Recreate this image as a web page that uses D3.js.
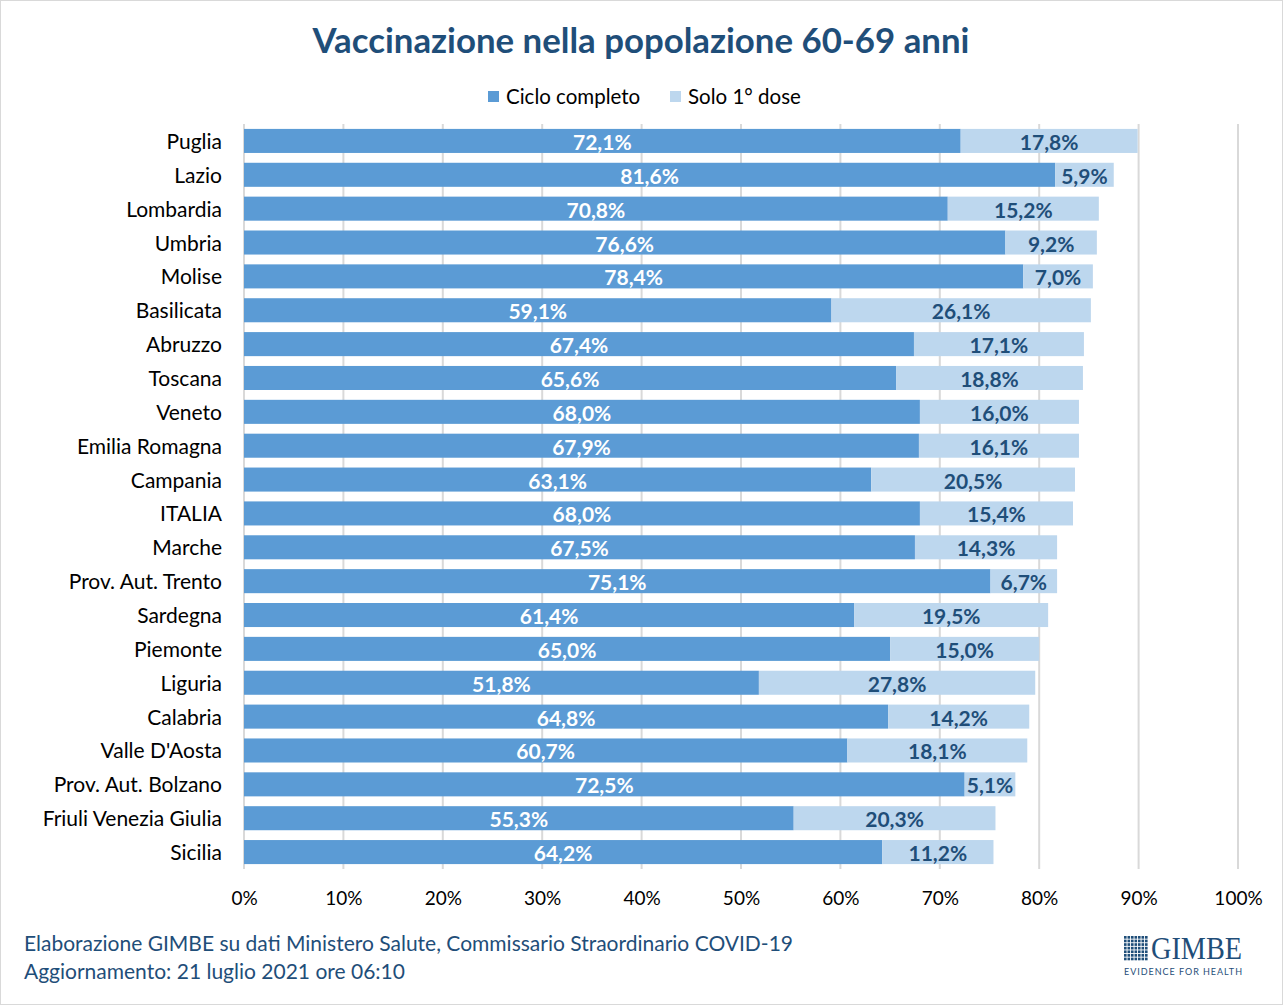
<!DOCTYPE html>
<html>
<head>
<meta charset="utf-8">
<script src="https://cdn.jsdelivr.net/npm/d3@7"></script>
<style>
  body { margin: 0; background: #fff; }
  svg { display: block; font-family: Lato, "Open Sans", sans-serif; }
</style>
</head>
<body>
<div class="chart"></div>
<script>
const regions = ["Puglia", "Lazio", "Lombardia", "Umbria", "Molise", "Basilicata", "Abruzzo", "Toscana",
  "Veneto", "Emilia Romagna", "Campania", "ITALIA", "Marche", "Prov. Aut. Trento", "Sardegna",
  "Piemonte", "Liguria", "Calabria", "Valle D'Aosta", "Prov. Aut. Bolzano", "Friuli Venezia Giulia", "Sicilia"];
const cicloCompleto = [72.1, 81.6, 70.8, 76.6, 78.4, 59.1, 67.4, 65.6, 68.0, 67.9, 63.1, 68.0, 67.5, 75.1,
  61.4, 65.0, 51.8, 64.8, 60.7, 72.5, 55.3, 64.2];
const primaDose = [17.8, 5.9, 15.2, 9.2, 7.0, 26.1, 17.1, 18.8, 16.0, 16.1, 20.5, 15.4, 14.3, 6.7,
  19.5, 15.0, 27.8, 14.2, 18.1, 5.1, 20.3, 11.2];
const seriesNames = ["Ciclo completo", "Solo 1° dose"];
const xTicks = [0, 10, 20, 30, 40, 50, 60, 70, 80, 90, 100];

const width = 1283;
const height = 1005;
const dark = "#5b9bd5";
const light = "#bdd7ee";
const navy = "#1f4e79";
const font = "Lato, 'Open Sans', sans-serif";

const svg = d3.select(".chart")
  .append("svg")
  .attr("width", width)
  .attr("height", height);

// frame
svg.append("rect")
  .attr("x", 0.5).attr("y", 0.5)
  .attr("width", width - 1).attr("height", height - 1)
  .attr("fill", "#fff").attr("stroke", "#d9d9d9");

svg.append("text")
  .attr("x", 641).attr("y", 53)
  .attr("text-anchor", "middle")
  .attr("font-size", 34.8).attr("font-weight", "bold")
  .attr("fill", navy)
  .text("Vaccinazione nella popolazione 60-69 anni");

// legend
const legendX = [488, 670];
const legend = svg.selectAll(".legend")
  .data(seriesNames)
  .enter()
  .append("g")
  .attr("transform", (d, i) => `translate(${legendX[i]}, 97)`);
legend.append("rect")
  .attr("y", -6).attr("width", 11).attr("height", 11)
  .attr("fill", (d, i) => i === 0 ? dark : light);
legend.append("text")
  .attr("x", 18).attr("y", 7)
  .attr("font-size", 20.5).attr("fill", "#000")
  .text(d => d);

const x = d3.scaleLinear().domain([0, 100]).range([244, 1238]);
const y = d3.scaleBand().domain(regions).range([124, 869]).paddingInner(0.29).paddingOuter(0.145);

// grid
svg.append("g")
  .selectAll("line")
  .data(xTicks)
  .enter()
  .append("line")
  .attr("x1", d => x(d)).attr("x2", d => x(d))
  .attr("y1", 124).attr("y2", 869)
  .attr("stroke", "#d9d9d9").attr("stroke-width", 2);

const xAxis = d3.axisBottom(x).tickValues(xTicks).tickSize(0).tickPadding(0).tickFormat(d => d + "%");
svg.append("g")
  .attr("transform", "translate(0, 891)")
  .call(xAxis)
  .call(g => g.select(".domain").remove())
  .call(g => g.selectAll("text").attr("font-size", 19).attr("fill", "#000").attr("font-family", font));

const yAxis = d3.axisLeft(y).tickSize(0).tickPadding(22);
svg.append("g")
  .attr("transform", `translate(${x(0)}, 0)`)
  .call(yAxis)
  .call(g => g.select(".domain").remove())
  .call(g => g.selectAll("text").attr("font-size", 21).attr("fill", "#000").attr("font-family", font).attr("dy", "0.38em"));

const rows = regions.map((r, i) => ({ region: r, a: cicloCompleto[i], b: primaDose[i] }));
const fmt = v => v.toFixed(1).replace(".", ",") + "%";

const bars = svg.append("g").selectAll("g").data(rows).enter().append("g");

bars.append("rect")
  .attr("x", x(0))
  .attr("y", d => y(d.region))
  .attr("width", d => x(d.a) - x(0))
  .attr("height", y.bandwidth())
  .attr("fill", dark);

bars.append("rect")
  .attr("x", d => x(d.a))
  .attr("y", d => y(d.region))
  .attr("width", d => x(d.a + d.b) - x(d.a))
  .attr("height", y.bandwidth())
  .attr("fill", light);

bars.append("text")
  .attr("x", d => x(d.a / 2))
  .attr("y", d => y(d.region) + y.bandwidth() / 2 + 9)
  .attr("text-anchor", "middle")
  .attr("font-size", 21).attr("font-weight", "bold")
  .attr("fill", "#fff")
  .text(d => fmt(d.a));

bars.append("text")
  .attr("x", d => x(d.a + d.b / 2))
  .attr("y", d => y(d.region) + y.bandwidth() / 2 + 9)
  .attr("text-anchor", "middle")
  .attr("font-size", 21).attr("font-weight", "bold")
  .attr("fill", navy)
  .text(d => fmt(d.b));

// footer
const footer = svg.append("g").attr("font-size", 21).attr("fill", navy);
footer.append("text").attr("x", 24).attr("y", 951)
  .text("Elaborazione GIMBE su dati Ministero Salute, Commissario Straordinario COVID-19");
footer.append("text").attr("x", 24).attr("y", 979)
  .text("Aggiornamento: 21 luglio 2021 ore 06:10");

// logo
const logo = svg.append("g").attr("transform", "translate(1124, 936)");
const cells = d3.range(49);
logo.selectAll("rect")
  .data(cells)
  .enter()
  .append("rect")
  .attr("x", d => (d % 7) * 3.5)
  .attr("y", d => Math.floor(d / 7) * 3.6)
  .attr("width", 2.6).attr("height", 2.7)
  .attr("fill", navy);
logo.append("text")
  .attr("x", 27).attr("y", 23)
  .attr("font-family", "'Liberation Serif', 'DejaVu Serif', serif")
  .attr("font-size", 32)
  .attr("textLength", 91)
  .attr("lengthAdjust", "spacingAndGlyphs")
  .attr("fill", navy)
  .text("GIMBE");
logo.append("text")
  .attr("x", 0).attr("y", 39)
  .attr("font-size", 9)
  .attr("textLength", 118)
  .attr("lengthAdjust", "spacing")
  .attr("fill", navy)
  .text("EVIDENCE FOR HEALTH");
</script>
</body>
</html>
